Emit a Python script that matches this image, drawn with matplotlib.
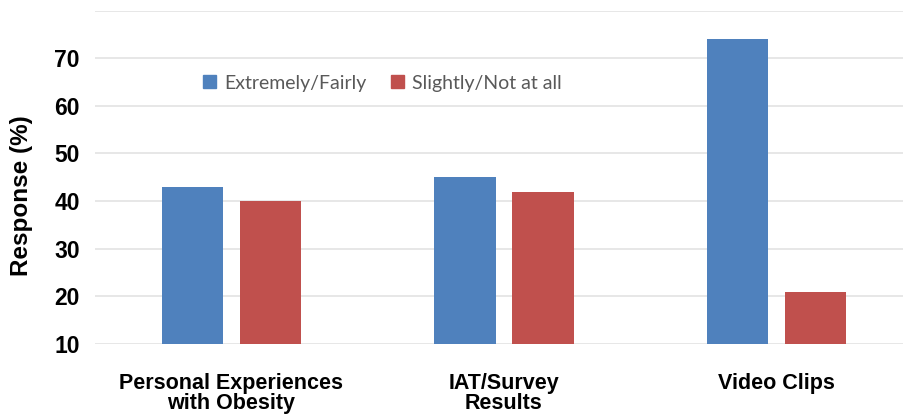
import matplotlib
matplotlib.use("Agg")
import matplotlib.pyplot as plt
import numpy as np
from matplotlib.patches import Patch

categories = ["Personal Experiences\nwith Obesity", "IAT/Survey\nResults", "Video Clips"]
series_names = ["Extremely/Fairly", "Slightly/Not at all"]
extremely_fairly = [43, 45, 74]
slightly_not = [40, 42, 21]
y_ticks = [10, 20, 30, 40, 50, 60, 70]

blue = "#4F81BD"
red = "#C0504D"

fig = plt.figure(figsize=(9.04, 4.16), dpi=100)
W, H = 904, 416
ax = fig.add_axes([95 / W, (416 - 344) / H, (913 - 95) / W, (344 - 10.6) / H])

x = np.arange(len(categories))
width = 0.224
offset = 0.143
ax.bar(x - offset, extremely_fairly, width, bottom=0, color=blue, zorder=3)
ax.bar(x + offset, slightly_not, width, bottom=0, color=red, zorder=3)

ax.set_xlim(-0.5, 2.5)
ax.set_ylim(10, 80)
ax.set_yticks(y_ticks + [80])
ax.set_yticklabels([str(v) for v in y_ticks] + [""])
ax.yaxis.grid(True, color="#e3e3e3", linewidth=1.2, zorder=0)
ax.set_axisbelow(True)
for s in ax.spines.values():
    s.set_visible(False)
ax.tick_params(axis="both", length=0)
ax.tick_params(axis="y", pad=11)
ax.tick_params(axis="x", pad=21)

ax.set_xticks(x)
ax.set_xticklabels(categories, fontsize=15.5, fontweight="bold",
                   family="Liberation Sans", linespacing=0.95)
for lbl in ax.get_yticklabels():
    lbl.set_fontsize(16.5)
    lbl.set_fontweight("bold")
    lbl.set_family("Liberation Sans")

ax.set_ylabel("Response (%)", fontsize=17.5, fontweight="bold",
              family="Liberation Sans")
ax.yaxis.set_label_coords(-0.0758, 0.444)

handles = [Patch(color=blue), Patch(color=red)]
leg = ax.legend(handles, series_names, loc="center left",
                bbox_to_anchor=(186 / W, 1 - 83 / H), bbox_transform=fig.transFigure,
                ncol=2, frameon=False, handlelength=0.65, handleheight=0.65,
                handletextpad=0.4, columnspacing=1.3,
                prop={"family": "Lato", "size": 14})
for t in leg.get_texts():
    t.set_color("#595959")

fig.savefig("out.png", dpi=100)
